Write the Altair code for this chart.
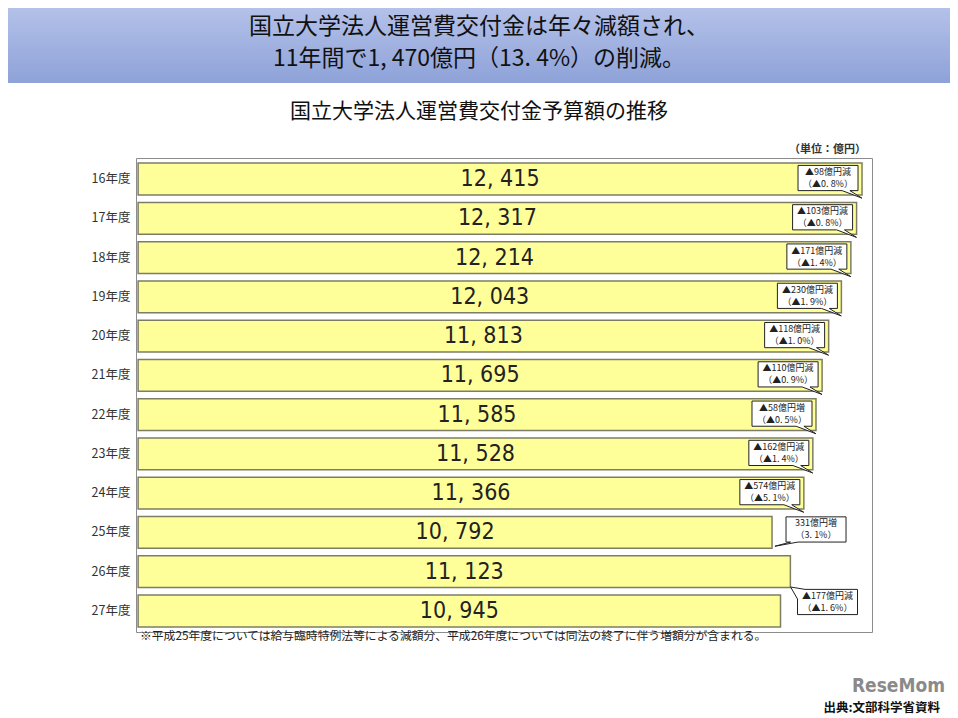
import altair as alt
import pandas as pd

# ---------------- data ----------------
years = ["16年度", "17年度", "18年度", "19年度", "20年度", "21年度",
         "22年度", "23年度", "24年度", "25年度", "26年度", "27年度"]
budgets = [12415, 12317, 12214, 12043, 11813, 11695,
           11585, 11528, 11366, 10792, 11123, 10945]

callout_years = ["16年度", "17年度", "18年度", "19年度", "20年度", "21年度",
                 "22年度", "23年度", "24年度", "25年度", "27年度"]
callout_line1 = ["▲98億円減", "▲103億円減", "▲171億円減", "▲230億円減", "▲118億円減",
                 "▲110億円減", "▲58億円増", "▲162億円減", "▲574億円減", "331億円増",
                 "▲177億円減"]
callout_line2 = ["（▲0. 8%）", "（▲0. 8%）", "（▲1. 4%）", "（▲1. 9%）", "（▲1. 0%）",
                 "（▲0. 9%）", "（▲0. 5%）", "（▲1. 4%）", "（▲5. 1%）", "（3. 1%）",
                 "（▲1. 6%）"]
callout_side = ["in"] * 9 + ["out_down", "out_up"]

title_line1 = "国立大学法人運営費交付金は年々減額され、"
title_line2 = "11年間で1, 470億円（13. 4%）の削減。"
subtitle = "国立大学法人運営費交付金予算額の推移"
unit_text = "（単位：億円）"
footnote = "※平成25年度については給与臨時特例法等による減額分、平成26年度については同法の終了に伴う増額分が含まれる。"
source_text = "出典:文部科学省資料"
logo_text = "ReseMom"

# ---------------- tables ----------------
BASE = -640          # value where the (truncated) bars start
X_DOMAIN = [-678, 12595]

df = pd.DataFrame({"year": years, "value": budgets})
df["base"] = BASE
df["label"] = [f"{v:,}".replace(",", ", ") for v in budgets]
df["mid"] = (df["value"] + BASE) / 2

lookup = dict(zip(years, budgets))
cdf = pd.DataFrame({"year": callout_years, "line1": callout_line1,
                    "line2": callout_line2, "side": callout_side})
cdf["end"] = cdf["year"].map(lookup)

CJK = "Noto Sans CJK JP"
NARROW = "Liberation Sans Narrow, DejaVu Sans Condensed, sans-serif"

xscale = alt.Scale(domain=X_DOMAIN, nice=False, zero=False)
yenc = alt.Y("year:N",
             scale=alt.Scale(domain=years, paddingInner=0.19, paddingOuter=0.13),
             axis=alt.Axis(title=None, domain=False, ticks=False, labelFontSize=12.5,
                           labelColor="#333333", labelPadding=6, labelFont=CJK))

bars = alt.Chart(df).mark_bar(fill="#FFFF99", stroke="#7d7d66", strokeWidth=1.5).encode(
    x=alt.X("value:Q", scale=xscale, axis=None),
    x2="base:Q",
    y=yenc,
)

values = alt.Chart(df).mark_text(font=NARROW, fontSize=23, color="#222222").encode(
    x=alt.X("mid:Q", scale=xscale, axis=None),
    y=yenc,
    text="label:N",
)

# speech-bubble callouts (shape paths in symbol units, 1 unit = 30px)
bubble_specs = {
    "in": dict(path="M -1 -0.42 L 1 -0.42 L 1 0.42 L 0.73 0.42 L 1.13 0.67 L 0.47 0.42 L -1 0.42 Z",
               dx=-34, dy=-1),
    "out_down": dict(path="M -1 -0.42 L 1 -0.42 L 1 0.42 L -0.6 0.42 L -1.37 0.56 L -0.85 0.42 L -1 0.42 Z",
                     dx=44, dy=-3),
    "out_up": dict(path="M -0.75 -0.42 L 1 -0.42 L 1 0.42 L -1 0.42 L -1 -0.1 L -1.23 -0.5 Z",
                   dx=47, dy=-9),
}

bubble_layers = []
for side, spec in bubble_specs.items():
    base_c = alt.Chart(cdf).transform_filter(alt.datum.side == side)
    shape = base_c.mark_point(shape=spec["path"], size=3600, filled=True, fill="white",
                              stroke="#222222", strokeWidth=1, opacity=1,
                              xOffset=spec["dx"], yOffset=spec["dy"]).encode(
        x=alt.X("end:Q", scale=xscale, axis=None), y=yenc)
    bubble_layers.append(shape)
    for field, shift in (("line1", -6), ("line2", 6)):
        txt = base_c.mark_text(font=CJK, fontSize=9, color="#222222",
                               baseline="middle", xOffset=spec["dx"],
                               yOffset=spec["dy"] + shift).encode(
            x=alt.X("end:Q", scale=xscale, axis=None), y=yenc, text=f"{field}:N")
        bubble_layers.append(txt)

one = pd.DataFrame({"k": [0]})

banner = alt.Chart(one).mark_rect(
    fill=alt.Gradient(gradient="linear",
                      stops=[alt.GradientStop(color="#B4C1E9", offset=0),
                             alt.GradientStop(color="#8EA2D8", offset=1)],
                      x1=0, x2=0, y1=0, y2=1)
).encode(x=alt.value(-128), x2=alt.value(814), y=alt.value(-150), y2=alt.value(-75))


def label(text, x, y, size, align="center", weight="normal", color="#111111", font=CJK):
    return alt.Chart(one).mark_text(text=text, fontSize=size, align=align, baseline="middle",
                                    fontWeight=weight, color=color, font=font).encode(
        x=alt.value(x), y=alt.value(y))


texts = [
    label(title_line1, 343, -131, 23),
    label(title_line2, 343, -99, 23),
    label(subtitle, 343, -46, 21),
    label(unit_text, 730, -8, 11, align="right", weight="bold", color="#333333"),
    label(footnote, 4, 478, 11.8, align="left", color="#222222"),
    label(logo_text, 809, 528, 19, align="right", weight="bold", color="#8a8a8a",
          font="DejaVu Sans Condensed"),
    label(source_text, 804, 550, 12.5, align="right", weight="bold", color="#111111"),
]

chart = alt.layer(banner, *texts, bars, values, *bubble_layers).properties(
    width=736, height=474,
    padding={"left": 128, "top": 150, "right": 78, "bottom": 86},
    autosize=alt.AutoSizeParams(type="none"),
).configure_view(stroke="#8c8c8c", strokeWidth=1)

chart.save("out.html", embed_options={"renderer": "svg", "actions": False})
